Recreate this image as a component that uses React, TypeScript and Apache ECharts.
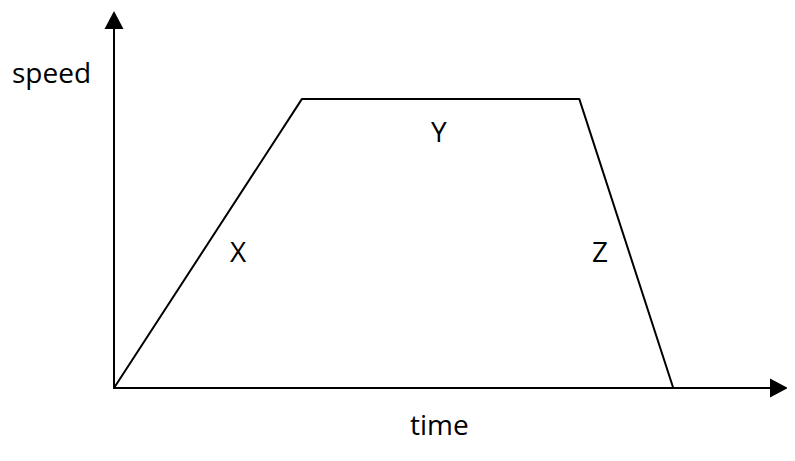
import React, { useEffect, useRef } from "react";
import * as echarts from "echarts";

// Speed–time trapezoid (time units, speed units)
const times = [0, 4, 9.9, 11.9];
const speeds = [0, 10, 10, 0];

// Segment labels
const segNames = ["X", "Y", "Z"];
const segTimes = [2.64, 6.91, 10.34];
const segSpeeds = [4.74, 8.89, 4.74];

const xMax = 14.15;
const yMax = 12.73;

const FONT = "'Open Sans', 'DejaVu Sans', sans-serif";

export default function App() {
  const ref = useRef<HTMLDivElement>(null);
  useEffect(() => {
    if (!ref.current) return;
    const chart = echarts.init(ref.current, undefined, { renderer: "svg" });
    const axisCommon = {
      type: "value" as const,
      min: 0,
      axisLine: {
        show: true,
        symbol: ["none", "triangle"],
        symbolSize: [19, 18],
        lineStyle: { color: "#000", width: 2 },
      },
      axisTick: { show: false },
      axisLabel: { show: false },
      splitLine: { show: false },
    };
    chart.setOption({
      animation: false,
      backgroundColor: "#fff",
      grid: { left: 114, right: 16, top: 20, bottom: 73 },
      xAxis: { ...axisCommon, max: xMax },
      yAxis: { ...axisCommon, max: yMax },
      series: [
        {
          type: "line",
          data: times.map((t, i) => [t, speeds[i]]),
          symbol: "none",
          lineStyle: { color: "#000", width: 2 },
          z: 1,
        },
        {
          type: "scatter",
          data: segNames.map((n, i) => ({ name: n, value: [segTimes[i], segSpeeds[i]] })),
          symbolSize: 0,
          itemStyle: { opacity: 1 },
          label: {
            show: true,
            position: "inside",
            formatter: "{b}",
            color: "#000",
            opacity: 1,
            textBorderWidth: 0,
            fontFamily: FONT,
            fontSize: 28,
          },
        },
      ],
      graphic: [
        {
          type: "text",
          left: 12,
          top: 58,
          style: { text: "speed", fill: "#000", font: `28px ${FONT}` },
        },
        {
          type: "text",
          left: 410,
          top: 410,
          style: { text: "time", fill: "#000", font: `28px ${FONT}` },
        },
      ],
    });
    return () => chart.dispose();
  }, []);
  return <div ref={ref} style={{ width: 795, height: 461, margin: -8 }} />;
}
